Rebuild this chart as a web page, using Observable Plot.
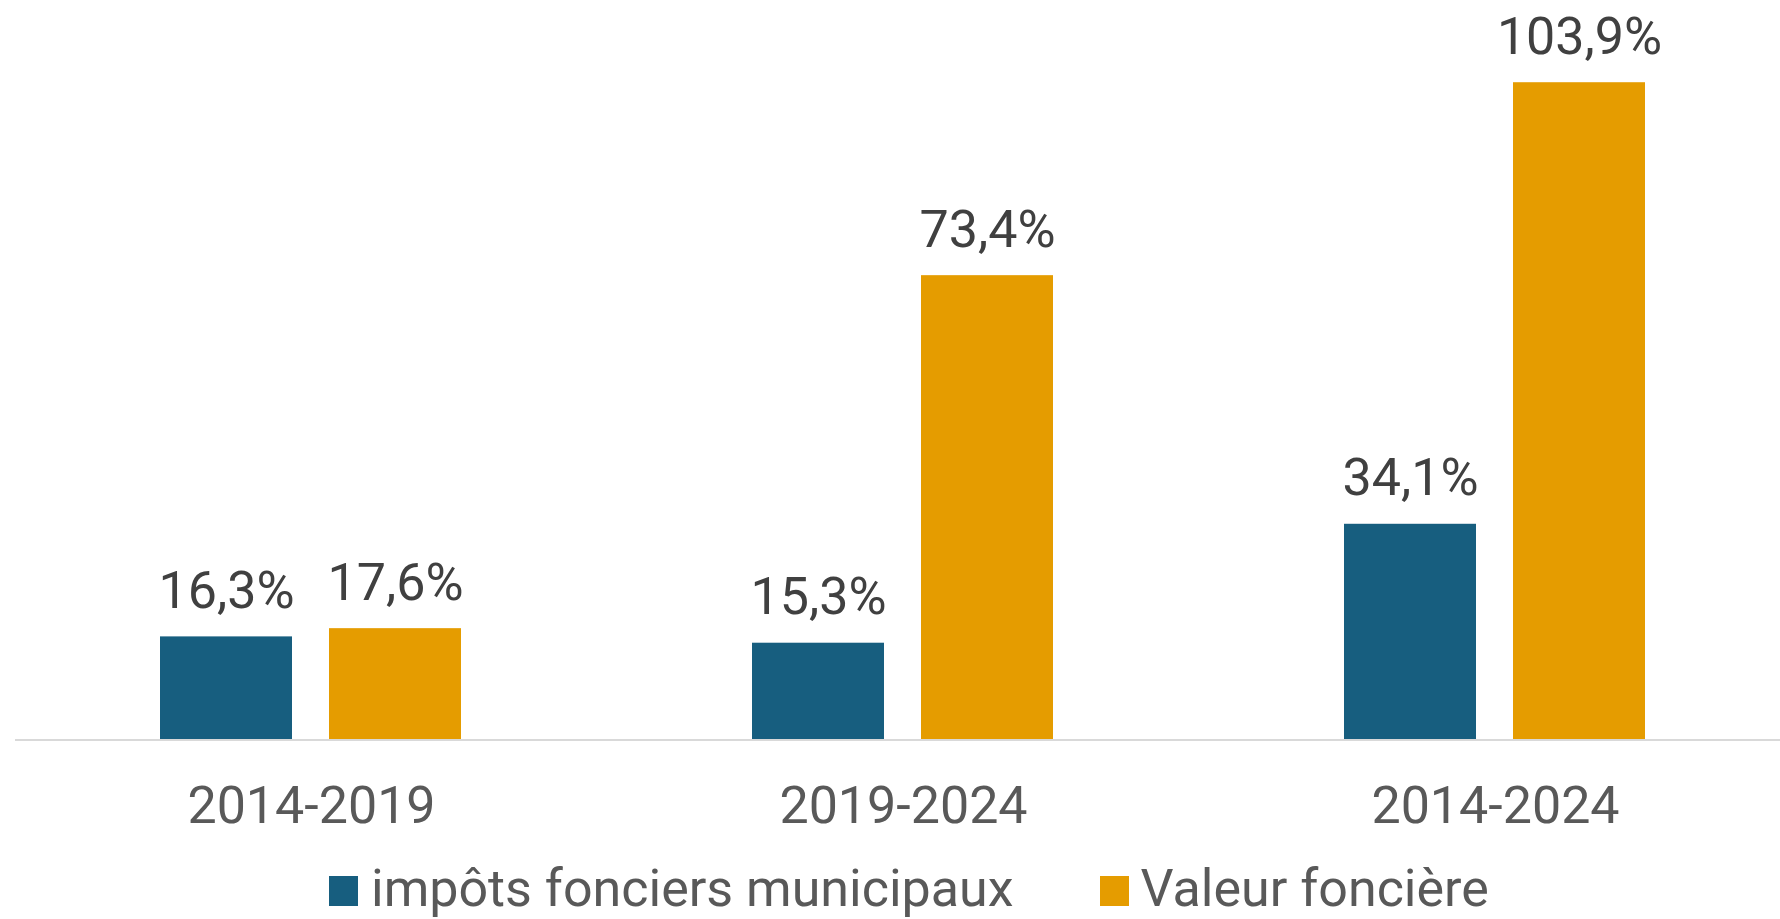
<!DOCTYPE html>
<html lang="fr">
<head>
<meta charset="utf-8">
<script src="https://cdn.jsdelivr.net/npm/d3@7"></script>
<script src="https://cdn.jsdelivr.net/npm/@observablehq/plot@0.6"></script>
<style>
  html, body { margin: 0; padding: 0; background: #ffffff; overflow: hidden; }
  body { width: 1780px; height: 919px; font-family: Roboto, "Open Sans", sans-serif; }
  #chart svg { display: block; overflow: hidden; }
  #legend {
    height: 55px; line-height: 49px; font-size: 52px; color: #595959;
    padding-left: 329px; white-space: nowrap; display: flex; align-items: baseline;
  }
  #legend .sw { display: inline-block; width: 29px; height: 30px; margin-right: 13px; }
  #legend .item2 { margin-left: 86px; }
  #legend .item2 .sw { margin-right: 12px; }
</style>
</head>
<body>
<div id="chart"></div>
<div id="legend"></div>
<script>
// ---- data ----
const categories = ["2014-2019", "2019-2024", "2014-2024"];
const series = ["impôts fonciers municipaux", "Valeur foncière"];
const impotsFonciers = [16.3, 15.3, 34.1];
const valeurFonciere = [17.6, 73.4, 103.9];
const seriesColors = ["#175e7f", "#e59c00"];

const rows = [];
categories.forEach((c, i) => {
  rows.push({cat: c, serie: series[0], value: impotsFonciers[i]});
  rows.push({cat: c, serie: series[1], value: valeurFonciere[i]});
});
const fmt = v => v.toFixed(1).replace(".", ",") + "%";

const W = 1780, H = 864;
const step = 592.75;
const left = 13.6;

const chart = Plot.plot({
  width: W,
  height: H,
  marginTop: 12,
  marginBottom: 124.5,
  marginLeft: 0,
  marginRight: 0,
  style: {fontFamily: "Roboto, sans-serif", background: "#ffffff"},
  fx: {domain: categories, range: [left, left + step * categories.length], paddingInner: 0, paddingOuter: 0, axis: null, label: null},
  x: {domain: series, paddingInner: 0.216, paddingOuter: 0.859, axis: null, label: null},
  y: {domain: [0, 115], axis: null, label: null},
  color: {domain: series, range: seriesColors},
  marks: [
    Plot.barY(rows, {fx: "cat", x: "serie", y: "value", fill: "serie"}),
    Plot.ruleY([0], {stroke: "#d9d9d9", strokeWidth: 2}),
    Plot.text(rows, {
      fx: "cat", x: "serie", y: "value", text: d => fmt(d.value),
      lineAnchor: "bottom", dy: -29, fontSize: 52, fill: "#404040"
    }),
    Plot.text(categories, {
      fx: d => d, text: d => d, frameAnchor: "bottom",
      lineAnchor: "top", dy: 46, fontSize: 52, fill: "#595959"
    })
  ]
});
document.getElementById("chart").appendChild(chart);

const legend = document.getElementById("legend");
series.forEach((s, i) => {
  const item = document.createElement("span");
  item.className = "item" + (i + 1);
  const sw = document.createElement("span");
  sw.className = "sw";
  sw.style.background = seriesColors[i];
  item.appendChild(sw);
  item.appendChild(document.createTextNode(s));
  legend.appendChild(item);
});
</script>
</body>
</html>
